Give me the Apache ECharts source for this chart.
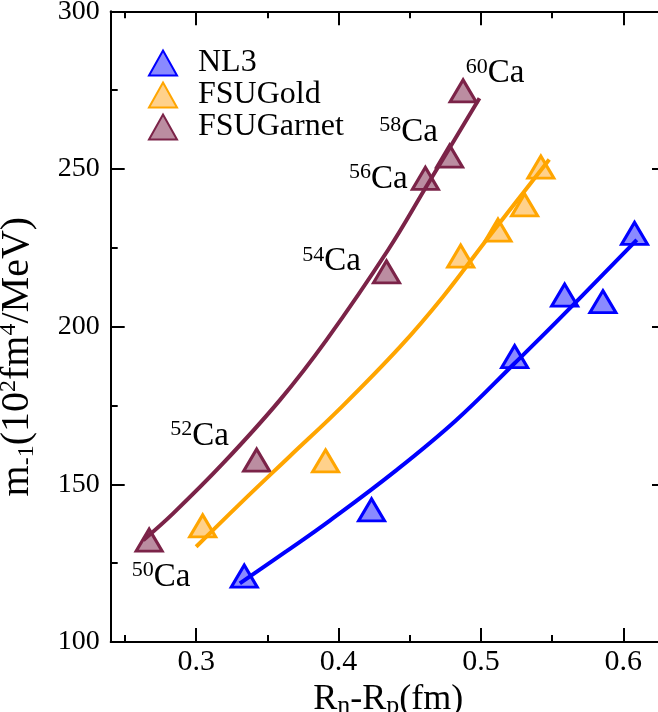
<!DOCTYPE html>
<html>
<head>
<meta charset="utf-8">
<script src="https://cdn.jsdelivr.net/npm/echarts@6/dist/echarts.min.js"></script>
<style>html,body{margin:0;padding:0;background:#fff}#c{width:658px;height:712px}</style>
</head>
<body>
<div id="c"></div>
<script>
// ---- data ----
var nl3X = [0.3338, 0.4232, 0.5237, 0.5588, 0.5857, 0.6079];
var nl3Y = [120.9, 141.9, 190.5, 210.0, 207.9, 229.6];
var goldX = [0.3046, 0.3909, 0.4858, 0.5120, 0.5307, 0.5421];
var goldY = [136.8, 157.4, 222.4, 230.6, 238.6, 250.6];
var garnetX = [0.2670, 0.3425, 0.4337, 0.4610, 0.4780, 0.4875];
var garnetY = [132.3, 157.7, 217.4, 247.0, 254.1, 274.8];
var massNumbers = ['50', '52', '54', '56', '58', '60'];

// fitted curves
var nl3FitX = [0.3307, 0.3635, 0.3939, 0.4407, 0.4828, 0.5237, 0.5530, 0.6095];
var nl3FitY = [118.6, 128.8, 138.5, 154.5, 170.4, 188.4, 201.5, 227.5];
var goldFitX = [0.3000, 0.3300, 0.3660, 0.4010, 0.4430, 0.4734, 0.5039, 0.5480];
var goldFitY = [130.2, 143.5, 159.0, 174.0, 193.5, 209.5, 227.5, 253.0];
var garnetFitX = [0.2629, 0.2839, 0.3190, 0.3588, 0.3916, 0.4348, 0.4618, 0.4990];
var garnetFitY = [132.3, 140.8, 156.7, 176.7, 195.8, 224.3, 244.5, 272.4];

var xMajor = [0.3, 0.4, 0.5, 0.6];
var xMinor = [0.25, 0.35, 0.45, 0.55];
var seriesNames = ['NL3', 'FSUGold', 'FSUGarnet'];

// ---- styling ----
var FONT = 'Liberation Serif';
var colors = ['#0000ff', '#ffa500', '#7b2348'];
var fills = ['rgba(60,60,255,0.6)', 'rgba(255,190,90,0.7)', 'rgba(150,80,110,0.65)'];
var labelOffsets = [[12, 37], [-57, -24], [-55, -10], [-47, 1], [-41, -24], [32, -17]];

function pairs(xs, ys) { return xs.map(function (x, i) { return [x, ys[i]]; }); }

function scatter(idx, xs, ys) {
  return {
    name: seriesNames[idx], type: 'scatter', symbol: 'triangle', symbolSize: [26, 22], z: 2,
    itemStyle: { color: fills[idx], borderColor: colors[idx], borderWidth: 3, opacity: 1 },
    data: pairs(xs, ys)
  };
}
function fit(idx, xs, ys) {
  return {
    name: seriesNames[idx] + ' fit', type: 'line', smooth: 0.4, showSymbol: false, z: 3,
    lineStyle: { color: colors[idx], width: 4 }, itemStyle: { color: colors[idx] },
    data: pairs(xs, ys)
  };
}

var garnet = scatter(2, garnetX, garnetY);
garnet.label = {
  show: true, position: 'inside', color: '#000',
  rich: {
    s: { fontFamily: FONT, fontSize: 22, verticalAlign: 'top', lineHeight: 22, color: '#000' },
    c: { fontFamily: FONT, fontSize: 33, lineHeight: 36, color: '#000' }
  }
};
garnet.data = garnetX.map(function (x, i) {
  return { value: [x, garnetY[i]], label: { formatter: '{s|' + massNumbers[i] + '}{c|Ca}', offset: labelOffsets[i] } };
});

var baseX = { type: 'value', min: 0.24, max: 0.63, splitLine: { show: false } };
function xAxis(pos, values, len, showLine, labels) {
  return Object.assign({}, baseX, {
    position: pos,
    axisLine: { show: showLine, onZero: false, lineStyle: { color: '#000', width: 2 } },
    axisTick: { show: true, inside: true, length: len, customValues: values, lineStyle: { color: '#000', width: 2 } },
    axisLabel: labels ? { show: true, customValues: xMajor, formatter: function (v) { return v.toFixed(1); },
      fontFamily: FONT, fontSize: 30, color: '#000', margin: 5 } : { show: false }
  });
}
var xAxes = [
  xAxis('bottom', xMajor, 14, true, true),
  xAxis('bottom', xMinor, 7, false, false),
  xAxis('top', xMajor, 14, true, false),
  xAxis('top', xMinor, 7, false, false)
];
xAxes[0].name = '{a|R}{b|n}{a|-R}{b|p}{a|(fm)}';
xAxes[0].nameLocation = 'middle';
xAxes[0].nameGap = 36;
xAxes[0].nameTextStyle = { rich: {
  a: { fontFamily: FONT, fontSize: 36, color: '#000', lineHeight: 38 },
  b: { fontFamily: FONT, fontSize: 26, color: '#000', verticalAlign: 'bottom', lineHeight: 28 }
} };

function yAxis(pos, labels) {
  return {
    type: 'value', min: 100, max: 300, interval: 50, position: pos, splitLine: { show: false },
    axisLine: { show: true, onZero: false, lineStyle: { color: '#000', width: 2 } },
    axisTick: { show: true, inside: true, length: 14, lineStyle: { color: '#000', width: 2 } },
    minorTick: { show: true, splitNumber: 2, length: 7, lineStyle: { color: '#000', width: 2 } },
    axisLabel: labels ? { show: true, fontFamily: FONT, fontSize: 28, color: '#000', margin: 11 } : { show: false }
  };
}
var yAxes = [yAxis('left', true), yAxis('right', false)];
yAxes[0].name = '{a|m}{s|-1}{a|(10}{p|2}{a|fm}{p|4}{a|/MeV)}';
yAxes[0].nameLocation = 'middle';
yAxes[0].nameGap = 72;
yAxes[0].nameTextStyle = {
  padding: [0, 60, 0, 0],
  rich: {
    a: { fontFamily: FONT, fontSize: 40, color: '#000', lineHeight: 42 },
    s: { fontFamily: FONT, fontSize: 24, color: '#000', verticalAlign: 'bottom', lineHeight: 24 },
    p: { fontFamily: FONT, fontSize: 24, color: '#000', verticalAlign: 'top', lineHeight: 24 }
  }
};

var chart = echarts.init(document.getElementById('c'), null, { renderer: 'canvas' });
chart.setOption({
  animation: false,
  backgroundColor: '#fff',
  grid: { left: 110.7, top: 11.3, right: -8, bottom: 70, outerBoundsMode: 'none', containLabel: false },
  xAxis: xAxes,
  yAxis: yAxes,
  legend: {
    data: seriesNames, orient: 'vertical', left: 143, top: 42, itemWidth: 28, itemHeight: 25,
    itemGap: 0, itemTextGap: 20, selectedMode: false,
    formatter: function (name) { return '\u2002' + name; },
    textStyle: { fontFamily: FONT, fontSize: 32, color: '#000', lineHeight: 31 }
  },
  series: [
    scatter(0, nl3X, nl3Y), scatter(1, goldX, goldY), garnet,
    fit(0, nl3FitX, nl3FitY), fit(1, goldFitX, goldFitY), fit(2, garnetFitX, garnetFitY)
  ]
});
</script>
</body>
</html>
